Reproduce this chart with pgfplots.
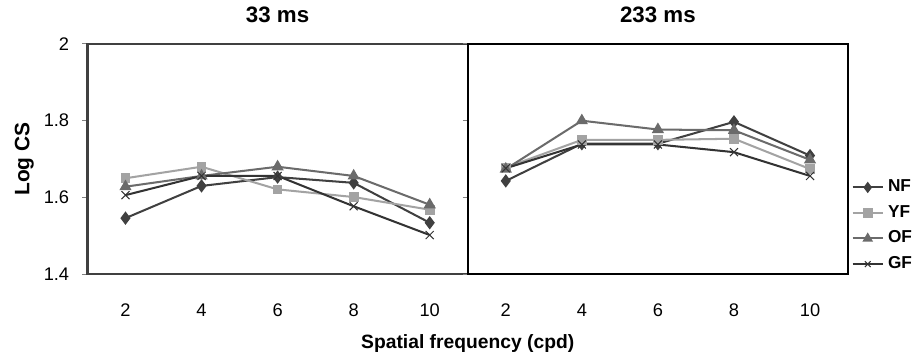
\documentclass[border=0pt]{standalone}
\usepackage{fontspec}
\setmainfont{Liberation Sans}
\usepackage{pgfplots}
\pgfplotsset{compat=1.18}
\definecolor{cNF}{HTML}{404040}
\definecolor{cYF}{HTML}{A3A3A3}
\definecolor{cOF}{HTML}{6B6B6B}
\definecolor{cGF}{HTML}{333333}
\pgfplotsset{
  panel/.style={
    scale only axis, width=187.5pt, height=113.5pt,
    xmin=1, xmax=11, ymin=1.4, ymax=2,
    xtick={2,4,6,8,10}, ytick={1.4,1.6,1.8,2},
    /pgf/number format/assume math mode=true,
    /pgf/number format/fixed,
    xtick style={draw=none},
    ytick pos=left, tick align=outside, major tick length=2.5pt,
    ytick style={color=gray, line width=0.5pt},
    ticklabel style={font=\fontsize{9}{10}\selectfont},
    xticklabel style={yshift=-8.5pt},
    title style={font=\bfseries\fontsize{11}{12}\selectfont, yshift=1pt},
    axis line style={line width=1.1pt},
    every axis plot/.append style={line width=1pt},
  },
  sNF/.style={color=cNF, mark=diamond*, mark size=2.5pt},
  sYF/.style={color=cYF, mark=square*, mark size=1.9pt},
  sOF/.style={color=cOF, mark=triangle*, mark size=2.5pt},
  sGF/.style={color=cGF, mark=x, mark size=2.8pt, mark options={line width=0.5pt}},
}
\begin{document}
\begin{tikzpicture}
\begin{axis}[panel, name=left, title={33 ms},
  axis line style={line width=1.1pt, color=cNF},
  ylabel={\bfseries Log CS}, ylabel style={font=\bfseries\fontsize{10.3}{11}\selectfont, yshift=-2pt},
  yticklabel style={xshift=-3pt}]
\addplot[sNF] coordinates {(2,1.546) (4,1.630) (6,1.653) (8,1.638) (10,1.534)};
\addplot[sYF] coordinates {(2,1.650) (4,1.680) (6,1.621) (8,1.601) (10,1.568)};
\addplot[sOF] coordinates {(2,1.628) (4,1.656) (6,1.680) (8,1.656) (10,1.581)};
\addplot[sGF] coordinates {(2,1.606) (4,1.656) (6,1.656) (8,1.577) (10,1.502)};
\end{axis}
\begin{axis}[panel, at={(left.south east)}, anchor=south west, title={233 ms},
  axis line style={line width=1.1pt, color=black},
  yticklabels={}, 
  legend style={draw=none, fill=none, at={(1.008,0.21)}, anchor=west,
    font=\bfseries\fontsize{8.5}{9}\selectfont, row sep=1.2pt, inner sep=0pt,
    /tikz/every even column/.append style={column sep=0pt}},
  legend cell align=left,
  legend image code/.code={\draw[#1] (0pt,0pt) -- (15pt,0pt); \draw[#1, only marks, mark size=2pt] plot coordinates {(7.5pt,0pt)};},
  xlabel={Spatial frequency (cpd)},
  xlabel style={font=\bfseries\fontsize{9.5}{10}\selectfont, at={(ticklabel cs:0)}, anchor=north, yshift=-2pt}]
\addplot[sNF] coordinates {(2,1.643) (4,1.740) (6,1.740) (8,1.797) (10,1.709)};
\addplot[sYF] coordinates {(2,1.678) (4,1.750) (6,1.750) (8,1.753) (10,1.674)};
\addplot[sOF] coordinates {(2,1.674) (4,1.800) (6,1.777) (8,1.775) (10,1.698)};
\addplot[sGF] coordinates {(2,1.676) (4,1.738) (6,1.738) (8,1.718) (10,1.656)};
\legend{NF,YF,OF,GF}
\end{axis}
\path ([xshift=-4pt]current bounding box.west);
\end{tikzpicture}
\end{document}
